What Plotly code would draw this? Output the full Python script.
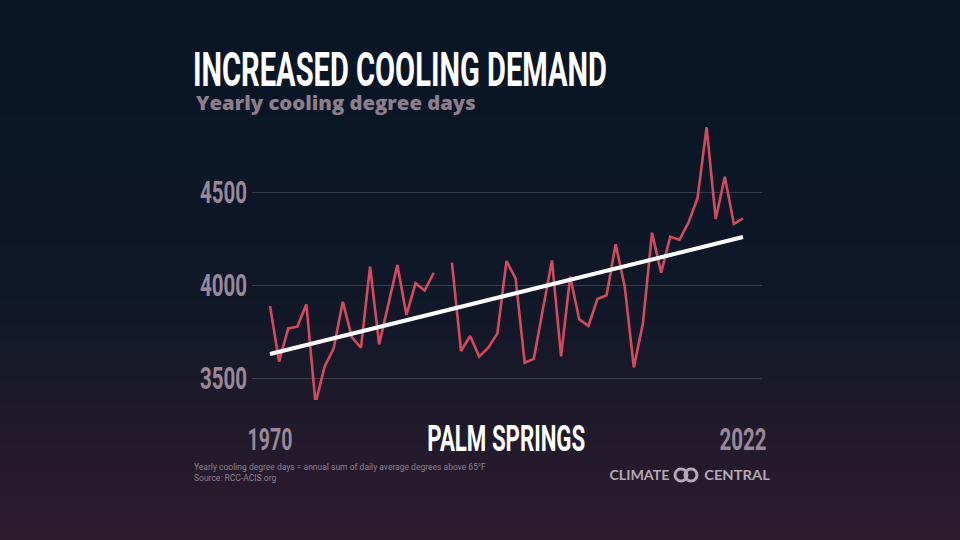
import plotly.graph_objects as go

years = list(range(1970, 2023))
cdd = [3887, 3588, 3767, 3776, 3896, 3364, 3561, 3660, 3910, 3719,
       3663, 4099, 3681, 3890, 4107, 3839, 4009, 3970, 4066, None,
       4120, 3645, 3726, 3615, 3663, 3740, 4129, 4036, 3582, 3603,
       3869, 4132, 3616, 4045, 3815, 3780, 3925, 3945, 4219, 3991,
       3557, 3794, 4281, 4066, 4260, 4242, 4335, 4466, 4848, 4355,
       4582, 4328, 4358]
trend_years = [1970, 2022]
trend_values = [3629, 4258]
y_ticks = [3500, 4000, 4500]
x_ticks = [1970, 2022]
x_tick_labels = ["1970", "2022"]

COND = "Roboto, sans-serif"
MAUVE = "#998897"

W, H = 960, 540
L, R, T, B = 252, 198, 110, 140
PW, PH = W - L - R, H - T - B


def px_to_paper_x(px):
    return (px - L) / PW


def px_to_paper_y(py):
    return (H - B - py) / PH


def mix(c1, c2, t):
    return tuple(round(a + (b - a) * t) for a, b in zip(c1, c2))


stops = [(0, (7, 21, 37)), (0.55, (16, 24, 40)), (1.0, (46, 27, 46))]


def grad(t):
    for (t0, c0), (t1, c1) in zip(stops[:-1], stops[1:]):
        if t <= t1:
            return mix(c0, c1, (t - t0) / (t1 - t0))
    return stops[-1][1]


shapes = []
step = 5
for py in range(0, H, step):
    c = grad((py + step / 2) / H)
    shapes.append(dict(type="rect", xref="paper", yref="paper",
                       x0=px_to_paper_x(0), x1=px_to_paper_x(W),
                       y0=px_to_paper_y(py + step + 0.5), y1=px_to_paper_y(py),
                       fillcolor="rgb(%d,%d,%d)" % c, line=dict(width=0),
                       layer="below"))

# logo rings
for cx in (681, 691):
    shapes.append(dict(type="circle", xref="paper", yref="paper",
                       x0=px_to_paper_x(cx - 6), x1=px_to_paper_x(cx + 6),
                       y0=px_to_paper_y(481), y1=px_to_paper_y(469),
                       line=dict(color="#b3a9b3", width=3)))

fig = go.Figure()
fig.add_trace(go.Scatter(x=years, y=cdd, mode="lines",
                         line=dict(color="#d44a5c", width=2.6),
                         connectgaps=False, hoverinfo="skip"))
fig.add_trace(go.Scatter(x=trend_years, y=trend_values, mode="lines",
                         line=dict(color="#ffffff", width=4), hoverinfo="skip"))

ann = []
ann.append(dict(text="INCREASED COOLING DEMAND", x=px_to_paper_x(191), y=px_to_paper_y(70),
                xref="paper", yref="paper", xanchor="left", yanchor="middle", showarrow=False,
                font=dict(family=COND, size=49, color="#ffffff", weight=700)))
ann.append(dict(text="Yearly cooling degree days", x=px_to_paper_x(194), y=px_to_paper_y(103),
                xref="paper", yref="paper", xanchor="left", yanchor="middle", showarrow=False,
                font=dict(family="Open Sans, sans-serif", size=19, color="#8e7d8c", weight=800)))
ann.append(dict(text="PALM SPRINGS", x=px_to_paper_x(506), y=px_to_paper_y(438),
                xref="paper", yref="paper", xanchor="center", yanchor="middle", showarrow=False,
                font=dict(family=COND, size=37, color="#ffffff", weight=700)))
ann.append(dict(text="Yearly cooling degree days = annual sum of daily average degrees above 65°F<br>Source: RCC-ACIS.org",
                x=px_to_paper_x(192), y=px_to_paper_y(472), align="left",
                xref="paper", yref="paper", xanchor="left", yanchor="middle", showarrow=False,
                font=dict(family="Roboto, sans-serif", size=8.5, color="#8a8090")))
ann.append(dict(text="CLIMATE", x=px_to_paper_x(639), y=px_to_paper_y(475),
                xref="paper", yref="paper", xanchor="center", yanchor="middle", showarrow=False,
                font=dict(family="Lato, sans-serif", size=13, color="#b3a9b3", weight=700)))
ann.append(dict(text="CENTRAL", x=px_to_paper_x(737), y=px_to_paper_y(475),
                xref="paper", yref="paper", xanchor="center", yanchor="middle", showarrow=False,
                font=dict(family="Lato, sans-serif", size=13, color="#b3a9b3", weight=700)))

fig.update_layout(
    width=W, height=H,
    margin=dict(l=L, r=R, t=T, b=B, pad=0),
    paper_bgcolor="rgb(7,21,37)",
    plot_bgcolor="rgba(0,0,0,0)",
    showlegend=False,
    hovermode=False,
    shapes=shapes,
    annotations=ann,
    xaxis=dict(range=[1968.02, 2024.09], tickvals=x_ticks, ticktext=x_tick_labels,
               showgrid=False, zeroline=False, showline=False, ticks="",
               ticklabelstandoff=18,
               tickfont=dict(family=COND, size=31, color=MAUVE, weight=700)),
    yaxis=dict(range=[3381.8, 4940.8], tickvals=y_ticks,
               showgrid=True, gridcolor="rgba(120,130,145,0.35)", gridwidth=1,
               zeroline=False, showline=False, ticks="",
               ticklabelstandoff=4,
               tickfont=dict(family=COND, size=31, color=MAUVE, weight=700)),
)

# Fit condensed-looking texts to the reference widths (horizontal scaling of the real text).
post_js = """
document.body.style.margin='0';
document.body.style.overflow='hidden';
var gd=document.getElementById('{plot_id}');
var specs={
 'INCREASED COOLING DEMAND':[414,'l'],
 'PALM SPRINGS':[158,'c'],
 '4500':[47,'r'],'4000':[47,'r'],'3500':[47,'r'],
 '1970':[45,'c'],'2022':[47,'c'],
 'Yearly cooling degree days':[280,'l'],
 'CLIMATE':[60,'c'],'CENTRAL':[66,'c']
};
gd.querySelectorAll('text').forEach(function(t){
  var s=t.textContent; var sp=specs[s]; if(!sp) return;
  var b=t.getBBox(); if(!b.width) return;
  var k=sp[0]/b.width;
  var ox=(sp[1]=='l')? b.x : ((sp[1]=='r')? b.x+b.width : b.x+b.width/2);
  var tr=t.getAttribute('transform')||'';
  t.setAttribute('transform', tr+' translate('+ox+',0) scale('+k+',1) translate('+(-ox)+',0)');
});
"""

fig.write_html("out.html", post_script=post_js,
               config={"displayModeBar": False, "staticPlot": True})
